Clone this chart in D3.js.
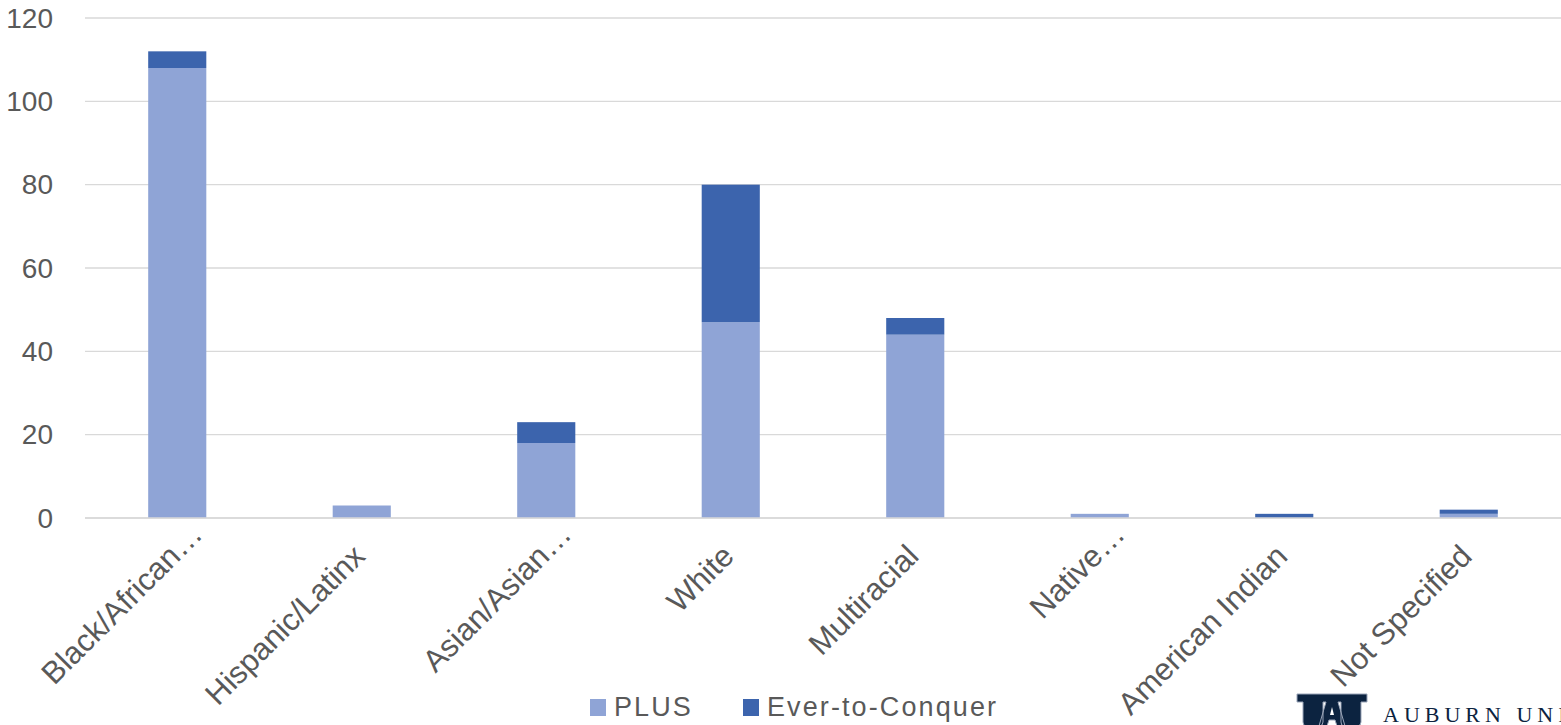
<!DOCTYPE html>
<html>
<head>
<meta charset="utf-8">
<script src="https://cdn.jsdelivr.net/npm/d3@7"></script>
<style>
  html, body { margin: 0; padding: 0; background: #fff; overflow: hidden; }
  svg { display: block; font-family: "Liberation Sans", Arial, sans-serif; }
</style>
</head>
<body>
<svg id="chart" width="1561" height="725"></svg>
<script>
// Enrollment counts by race/ethnicity, split by program
const categories = ["Black/African…", "Hispanic/Latinx", "Asian/Asian…", "White", "Multiracial", "Native…", "American Indian", "Not Specified"];
const plusValues = [108, 3, 18, 47, 44, 1, 0, 1];
const etcValues  = [4, 0, 5, 33, 4, 0, 1, 1];
const seriesNames = ["PLUS", "Ever-to-Conquer"];
const seriesColors = ["#8FA4D6", "#3C64AD"];
const yTicks = [0, 20, 40, 60, 80, 100, 120];

const svg = d3.select("#chart");
const margin = { left: 85, right: 0, top: 18, bottom: 207 };
const W = 1561, H = 725;

const x = d3.scaleBand().domain(categories).range([margin.left, W - margin.right]).paddingInner(0.685).paddingOuter(0.3425);
const y = d3.scaleLinear().domain([0, 120]).range([H - margin.bottom, margin.top]);

// Gridlines
svg.append("g").selectAll("line").data(yTicks).join("line")
  .attr("x1", margin.left).attr("x2", W)
  .attr("y1", d => y(d)).attr("y2", d => y(d))
  .attr("stroke", "#d9d9d9").attr("stroke-width", 1.3);

// Y tick labels
svg.append("g").selectAll("text").data(yTicks).join("text")
  .attr("x", 53).attr("y", d => y(d)).attr("dy", "0.35em")
  .attr("text-anchor", "end").attr("fill", "#595959").attr("font-size", 28)
  .text(d => d);

// Stacked bars
const rows = categories.map((c, i) => ({ cat: c, PLUS: plusValues[i], "Ever-to-Conquer": etcValues[i] }));
const stacked = d3.stack().keys(seriesNames)(rows);
svg.append("g").selectAll("g").data(stacked).join("g")
  .attr("fill", (d, i) => seriesColors[i])
  .selectAll("rect").data(d => d).join("rect")
  .attr("x", d => x(d.data.cat))
  .attr("width", x.bandwidth())
  .attr("y", d => y(d[1]))
  .attr("height", d => y(d[0]) - y(d[1]));

// Baseline
svg.append("line").attr("x1", margin.left).attr("x2", W)
  .attr("y1", y(0)).attr("y2", y(0)).attr("stroke", "#d9d9d9").attr("stroke-width", 1.3);

// Rotated category labels: the word ends at the anchor, a trailing ellipsis hangs past it
const labelG = svg.append("g").selectAll("g").data(categories).join("g")
  .attr("transform", d => `translate(${x(d) + x.bandwidth() / 2 + 5},${y(0) + 40}) rotate(-45)`)
  .attr("fill", "#595959").attr("font-size", 31);
labelG.append("text")
  .attr("text-anchor", "end")
  .text(d => d.replace(/…$/, ""));
labelG.filter(d => d.endsWith("…")).append("text")
  .attr("text-anchor", "start")
  .text("…");

// Legend
const legend = svg.append("g");
const legendItems = [{ name: "PLUS", x: 590 }, { name: "Ever-to-Conquer", x: 743 }];
legendItems.forEach((item, i) => {
  legend.append("rect").attr("x", item.x).attr("y", 699).attr("width", 16).attr("height", 17)
    .attr("fill", seriesColors[i]);
  legend.append("text").attr("x", item.x + 24).attr("y", 716)
    .attr("fill", "#595959").attr("font-size", 27).attr("letter-spacing", 2.1).text(item.name);
});

// University wordmark
const logo = svg.append("g").attr("fill", "#0C2340");
logo.append("path").attr("d",
  "M1297,694 L1367,694 L1367,702 L1361,702 L1361,722 Q1361,726 1357,726 L1344,726 Q1341,726 1341,722 L1341,702 L1338,702 L1345,726 L1337,726 L1335,720 L1329,720 L1327,726 L1319,726 L1326,702 L1323,702 L1323,722 Q1323,726 1319,726 L1306,726 Q1303,726 1303,722 L1303,702 L1297,702 Z")
  .attr("stroke", "#9aa5b8").attr("stroke-width", 1);
logo.append("path").attr("d", "M1330,715 L1334,715 L1332,707 Z").attr("fill", "#ffffff");
logo.append("text").attr("x", 1383).attr("y", 722)
  .attr("font-family", "'Liberation Serif', 'DejaVu Serif', serif")
  .attr("font-size", 22).attr("letter-spacing", 5)
  .text("AUBURN UNIVERSITY");
</script>
</body>
</html>
